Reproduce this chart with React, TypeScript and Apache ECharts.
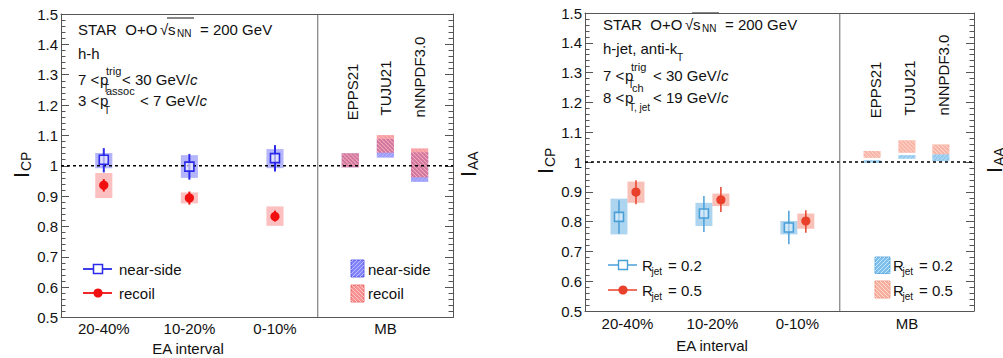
import React, { useEffect, useRef } from 'react';
import * as echarts from 'echarts';

const FONT = '"Liberation Sans", Arial, Helvetica, sans-serif';
const TXT = '#111';
const AX = '#555';

// ---- x layout (axis units) ----
const xMin = 0.5;
const xMax = 5.08;
const dividerPos = 3.5;
const eaLabels = ['20-40%', '10-20%', '0-10%'];
const eaPos = [1, 2, 3];
const mbLabel = 'MB';
const mbPos = 4.29;
const modelNames = ['EPPS21', 'TUJU21', 'nNNPDF3.0'];
const modelPos = [3.88, 4.29, 4.69];
const xTickPos = [...eaPos, mbPos];
const xTickLabels = [...eaLabels, mbLabel];

// ---- left panel: h-h ----
const nearVal = [1.02, 0.997, 1.025];
const nearStatLo = [0.978, 0.954, 0.981];
const nearStatHi = [1.058, 1.039, 1.068];
const nearSysLo = [0.992, 0.96, 0.992];
const nearSysHi = [1.042, 1.035, 1.055];
const recoilVal = [0.936, 0.894, 0.833];
const recoilStatLo = [0.915, 0.872, 0.816];
const recoilStatHi = [0.956, 0.915, 0.852];
const recoilSysLo = [0.894, 0.876, 0.802];
const recoilSysHi = [0.976, 0.912, 0.866];
const nearModelLo = [0.995, 1.027, 0.947];
const nearModelHi = [1.041, 1.088, 1.044];
const recoilModelLo = [0.995, 1.043, 0.962];
const recoilModelHi = [1.041, 1.101, 1.057];

// ---- right panel: h-jet ----
const r02Val = [0.816, 0.827, 0.78];
const r02StatLo = [0.759, 0.765, 0.724];
const r02StatHi = [0.872, 0.886, 0.836];
const r02SysLo = [0.757, 0.785, 0.757];
const r02SysHi = [0.877, 0.863, 0.802];
const r05Val = [0.899, 0.873, 0.802];
const r05StatLo = [0.858, 0.832, 0.763];
const r05StatHi = [0.939, 0.916, 0.838];
const r05SysLo = [0.863, 0.852, 0.776];
const r05SysHi = [0.934, 0.894, 0.827];
const r02ModelLo = [0.997, 1.011, 1.003];
const r02ModelHi = [1.006, 1.023, 1.026];
const r05ModelLo = [1.014, 1.031, 1.026];
const r05ModelHi = [1.037, 1.073, 1.059];

const jetShift = 0.1;
const boxHalf = 0.1;

let measureCtx: CanvasRenderingContext2D | null = null;
function mw(t: string, fs: number, italic = false) {
  if (!measureCtx) measureCtx = document.createElement('canvas').getContext('2d');
  measureCtx!.font = `${italic ? 'italic ' : ''}${fs}px ${FONT}`;
  return measureCtx!.measureText(t).width;
}

function txt(text: string, x: number, y: number, fs = 15, o: any = {}) {
  return {
    type: 'text',
    x,
    y,
    rotation: o.rot || 0,
    silent: true,
    style: {
      text,
      fontSize: fs,
      fontFamily: FONT,
      fontStyle: o.italic ? 'italic' : 'normal',
      fill: o.color || TXT,
      textAlign: o.align || 'left',
      textVerticalAlign: 'middle',
      verticalAlign: 'middle',
    },
  };
}

function seq(x: number, y: number, parts: [string, boolean?][], fs = 15) {
  const out: any[] = [];
  let cx = x;
  for (const [t, it] of parts) {
    out.push(txt(t, cx, y, fs, { italic: !!it }));
    cx += mw(t, fs, !!it);
  }
  return out;
}

function hatch(x0: number, y0: number, w: number, h: number, dir: number, step: number, color: string, width = 1) {
  const out: any[] = [];
  if (dir > 0) {
    for (let c = x0 + y0 + step / 2; c < x0 + w + y0 + h; c += step) {
      const xa = Math.max(x0, c - (y0 + h));
      const xb = Math.min(x0 + w, c - y0);
      if (xb <= xa) continue;
      out.push({ type: 'line', silent: true, shape: { x1: xa, y1: c - xa, x2: xb, y2: c - xb }, style: { stroke: color, lineWidth: width } });
    }
  } else {
    for (let c = x0 - (y0 + h) + step / 2; c < x0 + w - y0; c += step) {
      const xa = Math.max(x0, c + y0);
      const xb = Math.min(x0 + w, c + y0 + h);
      if (xb <= xa) continue;
      out.push({ type: 'line', silent: true, shape: { x1: xa, y1: xa - c, x2: xb, y2: xb - c }, style: { stroke: color, lineWidth: width } });
    }
  }
  return out;
}

function hatchBox(x: number, y: number, w: number, h: number, fill: string, dir: number, lineColor: string, stroke?: string) {
  return [
    { type: 'rect', silent: true, shape: { x, y, width: w, height: h }, style: { fill, stroke: stroke || 'none', lineWidth: 1 } },
    ...hatch(x, y, w, h, dir, 4, lineColor, 1),
  ];
}

function boxSeries(name: string, ax: number, pos: number[], lo: number[], hi: number[], fill: string, hatchDir = 0, hatchColor = '') {
  return {
    type: 'custom',
    name,
    xAxisIndex: ax,
    yAxisIndex: ax,
    z: 2,
    silent: true,
    data: pos.map((p, i) => [p, lo[i], hi[i]]),
    renderItem: (params: any, api: any) => {
      const x = api.value(0);
      const a = api.coord([x - boxHalf, api.value(2)]);
      const b = api.coord([x + boxHalf, api.value(1)]);
      const w = b[0] - a[0];
      const h = b[1] - a[1];
      if (!hatchDir) return { type: 'rect', shape: { x: a[0], y: a[1], width: w, height: h }, style: { fill } };
      return { type: 'group', children: hatchBox(a[0], a[1], w, h, fill, hatchDir, hatchColor) };
    },
  };
}

function pointSeries(name: string, ax: number, pos: number[], val: number[], lo: number[], hi: number[], color: string, marker: 'square' | 'circle', inner: string, lw: number) {
  return {
    type: 'custom',
    name,
    xAxisIndex: ax,
    yAxisIndex: ax,
    z: 4,
    silent: true,
    data: pos.map((p, i) => [p, val[i], lo[i], hi[i]]),
    renderItem: (params: any, api: any) => {
      const x = api.value(0);
      const c = api.coord([x, api.value(1)]);
      const a = api.coord([x, api.value(2)]);
      const b = api.coord([x, api.value(3)]);
      const m =
        marker === 'square'
          ? { type: 'rect', shape: { x: c[0] - 4.5, y: c[1] - 4.5, width: 9, height: 9 }, style: { fill: inner, stroke: color, lineWidth: 1.6 } }
          : { type: 'circle', shape: { cx: c[0], cy: c[1], r: 4.6 }, style: { fill: color } };
      return {
        type: 'group',
        children: [{ type: 'line', shape: { x1: c[0], y1: a[1], x2: c[0], y2: b[1] }, style: { stroke: color, lineWidth: lw } }, m],
      };
    },
  };
}

function refLines(ax: number) {
  return [
    {
      type: 'line',
      xAxisIndex: ax,
      yAxisIndex: ax,
      z: 3,
      silent: true,
      symbol: 'none',
      data: [[xMin, 1], [xMax, 1]],
      lineStyle: { color: '#000', width: 1.3, type: [3, 3] },
    },
    {
      type: 'line',
      xAxisIndex: ax,
      yAxisIndex: ax,
      z: 3,
      silent: true,
      symbol: 'none',
      data: [[dividerPos, 0.5], [dividerPos, 1.5]],
      lineStyle: { color: '#666', width: 1 },
    },
  ];
}

function xAxes(grid: number, margin: number) {
  return [
    {
      type: 'value',
      gridIndex: grid,
      position: 'bottom',
      min: xMin,
      max: xMax,
      axisLine: { show: true, lineStyle: { color: AX, width: 1 } },
      axisTick: { show: false },
      splitLine: { show: false },
      axisLabel: {
        show: true,
        customValues: xTickPos,
        fontSize: 15,
        fontFamily: FONT,
        color: TXT,
        margin,
        formatter: (v: number) => {
          const k = xTickPos.findIndex((p) => Math.abs(p - v) < 1e-6);
          return k >= 0 ? xTickLabels[k] : '';
        },
      },
    },
    {
      type: 'value',
      gridIndex: grid,
      position: 'top',
      min: xMin,
      max: xMax,
      axisLine: { show: true, lineStyle: { color: AX, width: 1 } },
      axisTick: { show: false },
      splitLine: { show: false },
      axisLabel: { show: false },
    },
  ];
}

function yAxes(grid: number) {
  const base = (pos: string, labels: boolean) => ({
    type: 'value',
    gridIndex: grid,
    position: pos,
    min: 0.5,
    max: 1.5,
    interval: 0.1,
    axisLine: { show: true, lineStyle: { color: AX, width: 1 } },
    axisTick: { show: true, inside: true, length: 8, lineStyle: { color: AX } },
    minorTick: { show: true, splitNumber: 5, length: 4.5, lineStyle: { color: AX } },
    splitLine: { show: false },
    minorSplitLine: { show: false },
    axisLabel: {
      show: labels,
      fontSize: 15,
      fontFamily: FONT,
      color: TXT,
      margin: 3,
      formatter: (v: number) => String(parseFloat(v.toFixed(1))),
    },
  });
  return [base('left', true), base('right', false)];
}

// rotated (reads bottom-to-top) symbol with subscript
function rotLabel(main: string, sub: string, x: number, y: number) {
  const rot = Math.PI / 2;
  return [txt(main, x, y, 22, { rot }), txt(sub, x + 5, y - 7, 14, { rot })];
}

function header(x: number, ys: number[], second: any[], l3: any, l4: any) {
  const els: any[] = [];
  // line 1
  els.push(txt('STAR  O+O', x, ys[0]));
  els.push(txt('\u221A', x + 82, ys[0]));
  els.push(txt('s', x + 90, ys[0]));
  els.push(txt('NN', x + 99, ys[0] + 4, 10));
  els.push({ type: 'line', silent: true, shape: { x1: x + 89, y1: ys[0] - 11, x2: x + 116, y2: ys[0] - 11 }, style: { stroke: TXT, lineWidth: 1 } });
  els.push(txt('= 200 GeV', x + 122, ys[0]));
  els.push(...second);
  // line 3
  els.push(txt(l3.pre, x, ys[2]));
  els.push(txt('p', x + l3.p, ys[2]));
  els.push(txt(l3.sup, x + l3.p + 6, ys[2] - 8, 11));
  els.push(txt('T', x + l3.p + 3, ys[2] + 9, 10));
  els.push(...seq(x + l3.post, ys[2], [[l3.rest], ['c', true]]));
  // line 4
  els.push(txt(l4.pre, x, ys[3]));
  els.push(txt('p', x + l4.p, ys[3]));
  els.push(txt(l4.sup, x + l4.supX, ys[3] - 9, 11));
  els.push(txt(l4.sub, x + l4.p + 4, ys[3] + 10, 10));
  els.push(...seq(x + l4.post, ys[3], [[l4.rest], ['c', true]]));
  return els;
}

function buildGraphics() {
  const g: any[] = [];
  // ---------- left panel texts ----------
  g.push(
    ...header(
      78,
      [29, 53, 79, 100],
      [txt('h-h', 78, 53)],
      { pre: '7 <', p: 22, sup: 'trig', rest: '< 30 GeV/', post: 44 },
      { pre: '3 <', p: 22, sup: 'assoc', supX: 28, sub: 'T', rest: '< 7 GeV/', post: 62 }
    )
  );
  // ---------- right panel texts ----------
  g.push(
    ...header(
      603,
      [24, 48, 75, 97],
      [txt('h-jet, anti-k', 603, 48), txt('T', 677, 57, 10)],
      { pre: '7 <', p: 22, sup: 'trig', rest: '< 30 GeV/', post: 50 },
      { pre: '8 <', p: 22, sup: 'ch', supX: 29, sub: 'T, jet', rest: '< 19 GeV/', post: 50 }
    )
  );

  // axis titles
  g.push(txt('EA interval', 188, 348, 15, { align: 'center' }));
  g.push(txt('EA interval', 712, 345, 15, { align: 'center' }));
  g.push(...rotLabel('I', 'CP', 21, 178));
  g.push(...rotLabel('I', 'AA', 468, 177));
  g.push(...rotLabel('I', 'CP', 545, 174));
  g.push(...rotLabel('I', 'AA', 994, 173));

  // model names (rotated)
  const lY = [92, 88, 77];
  const rY = [90, 88, 75];
  const lX = [352, 385, 419];
  const rX = [875, 909, 943];
  modelNames.forEach((n, i) => {
    g.push(txt(n, lX[i], lY[i], 15, { align: 'center', rot: Math.PI / 2 }));
    g.push(txt(n, rX[i], rY[i], 15, { align: 'center', rot: Math.PI / 2 }));
  });

  // ---------- left legends ----------
  g.push({ type: 'line', silent: true, shape: { x1: 83, y1: 269, x2: 112, y2: 269 }, style: { stroke: '#2a2ae8', lineWidth: 1.8 } });
  g.push({ type: 'rect', silent: true, shape: { x: 93.5, y: 264.5, width: 9, height: 9 }, style: { fill: '#fff', stroke: '#2a2ae8', lineWidth: 1.5 } });
  g.push(txt('near-side', 119, 269));
  g.push({ type: 'line', silent: true, shape: { x1: 83, y1: 293, x2: 112, y2: 293 }, style: { stroke: '#f01010', lineWidth: 1.8 } });
  g.push({ type: 'circle', silent: true, shape: { cx: 98, cy: 293, r: 4.6 }, style: { fill: '#f01010' } });
  g.push(txt('recoil', 119, 293));
  g.push({ type: 'group', silent: true, children: hatchBox(351, 260, 13, 17, 'rgba(90,90,250,0.75)', 1, 'rgba(190,190,255,0.95)', 'rgba(70,70,230,0.8)') });
  g.push(txt('near-side', 368, 269));
  g.push({ type: 'group', silent: true, children: hatchBox(351, 285, 13, 17, 'rgba(245,110,110,0.75)', -1, 'rgba(255,200,200,0.95)', 'rgba(235,90,90,0.8)') });
  g.push(txt('recoil', 368, 293));

  // ---------- right legends ----------
  const rows = [
    { y: 265, v: '= 0.2' },
    { y: 290, v: '= 0.5' },
  ];
  g.push({ type: 'line', silent: true, shape: { x1: 608, y1: 265, x2: 637, y2: 265 }, style: { stroke: '#4a9fd8', lineWidth: 1.5 } });
  g.push({ type: 'rect', silent: true, shape: { x: 618.5, y: 260.5, width: 9, height: 9 }, style: { fill: '#fff', stroke: '#4a9fd8', lineWidth: 1.4 } });
  g.push({ type: 'line', silent: true, shape: { x1: 608, y1: 290, x2: 637, y2: 290 }, style: { stroke: '#e8402a', lineWidth: 1.5 } });
  g.push({ type: 'circle', silent: true, shape: { cx: 623, cy: 290, r: 4.6 }, style: { fill: '#e8402a' } });
  rows.forEach((r) => {
    g.push(txt('R', 642, r.y));
    g.push(txt('jet', 651.5, r.y + 6, 10));
    g.push(txt(r.v, 668, r.y));
    g.push(txt('R', 893, r.y));
    g.push(txt('jet', 902.5, r.y + 6, 10));
    g.push(txt(r.v, 919, r.y));
  });
  g.push({ type: 'group', silent: true, children: hatchBox(875, 257, 15, 16.5, 'rgba(95,175,230,0.8)', 1, 'rgba(200,230,250,0.95)', 'rgba(80,160,220,0.8)') });
  g.push({ type: 'group', silent: true, children: hatchBox(875, 281, 15, 17, 'rgba(245,155,135,0.8)', -1, 'rgba(255,220,210,0.95)', 'rgba(240,140,120,0.8)') });
  return g;
}

export default function App() {
  const ref = useRef<HTMLDivElement>(null);
  useEffect(() => {
    if (!ref.current) return;
    const chart = echarts.init(ref.current, undefined, { renderer: 'svg' });
    const r02Pos = eaPos.map((p) => p - jetShift);
    const r05Pos = eaPos.map((p) => p + jetShift);
    const option: any = {
      animation: false,
      backgroundColor: '#fff',
      grid: [
        { left: 61, top: 14, width: 392, height: 303.5 },
        { left: 585, top: 13, width: 389, height: 298 },
      ],
      xAxis: [...xAxes(0, 3), ...xAxes(1, 5)],
      yAxis: [...yAxes(0), ...yAxes(1)],
      series: [
        { ...boxSeries('near sys', 0, eaPos, nearSysLo, nearSysHi, 'rgba(120,120,250,0.55)') },
        { ...boxSeries('recoil sys', 0, eaPos, recoilSysLo, recoilSysHi, 'rgba(250,140,140,0.55)') },
        { ...boxSeries('near model', 0, modelPos, nearModelLo, nearModelHi, 'rgba(90,90,250,0.6)', 1, 'rgba(190,190,255,0.9)') },
        { ...boxSeries('recoil model', 0, modelPos, recoilModelLo, recoilModelHi, 'rgba(240,90,100,0.6)', -1, 'rgba(255,190,190,0.9)') },
        ...refLines(0),
        pointSeries('near', 0, eaPos, nearVal, nearStatLo, nearStatHi, '#2a2ae8', 'square', 'rgba(255,255,255,0.6)', 2),
        pointSeries('recoil', 0, eaPos, recoilVal, recoilStatLo, recoilStatHi, '#f01010', 'circle', '', 2),
        { ...boxSeries('r02 sys', 2, r02Pos, r02SysLo, r02SysHi, 'rgba(120,185,230,0.6)') },
        { ...boxSeries('r05 sys', 2, r05Pos, r05SysLo, r05SysHi, 'rgba(245,150,135,0.6)') },
        { ...boxSeries('r02 model', 2, modelPos, r02ModelLo, r02ModelHi, 'rgba(95,175,230,0.7)', 1, 'rgba(205,232,250,0.95)') },
        { ...boxSeries('r05 model', 2, modelPos, r05ModelLo, r05ModelHi, 'rgba(245,150,130,0.7)', -1, 'rgba(255,222,212,0.95)') },
        ...refLines(2),
        pointSeries('r02', 2, r02Pos, r02Val, r02StatLo, r02StatHi, '#4a9fd8', 'square', 'rgba(255,255,255,0.45)', 1.5),
        pointSeries('r05', 2, r05Pos, r05Val, r05StatLo, r05StatHi, '#e8402a', 'circle', '', 1.5),
      ],
      graphic: { elements: buildGraphics() },
    };
    chart.setOption(option);
    return () => chart.dispose();
  }, []);
  return <div ref={ref} style={{ position: 'absolute', left: 0, top: 0, width: 1003, height: 358 }} />;
}
